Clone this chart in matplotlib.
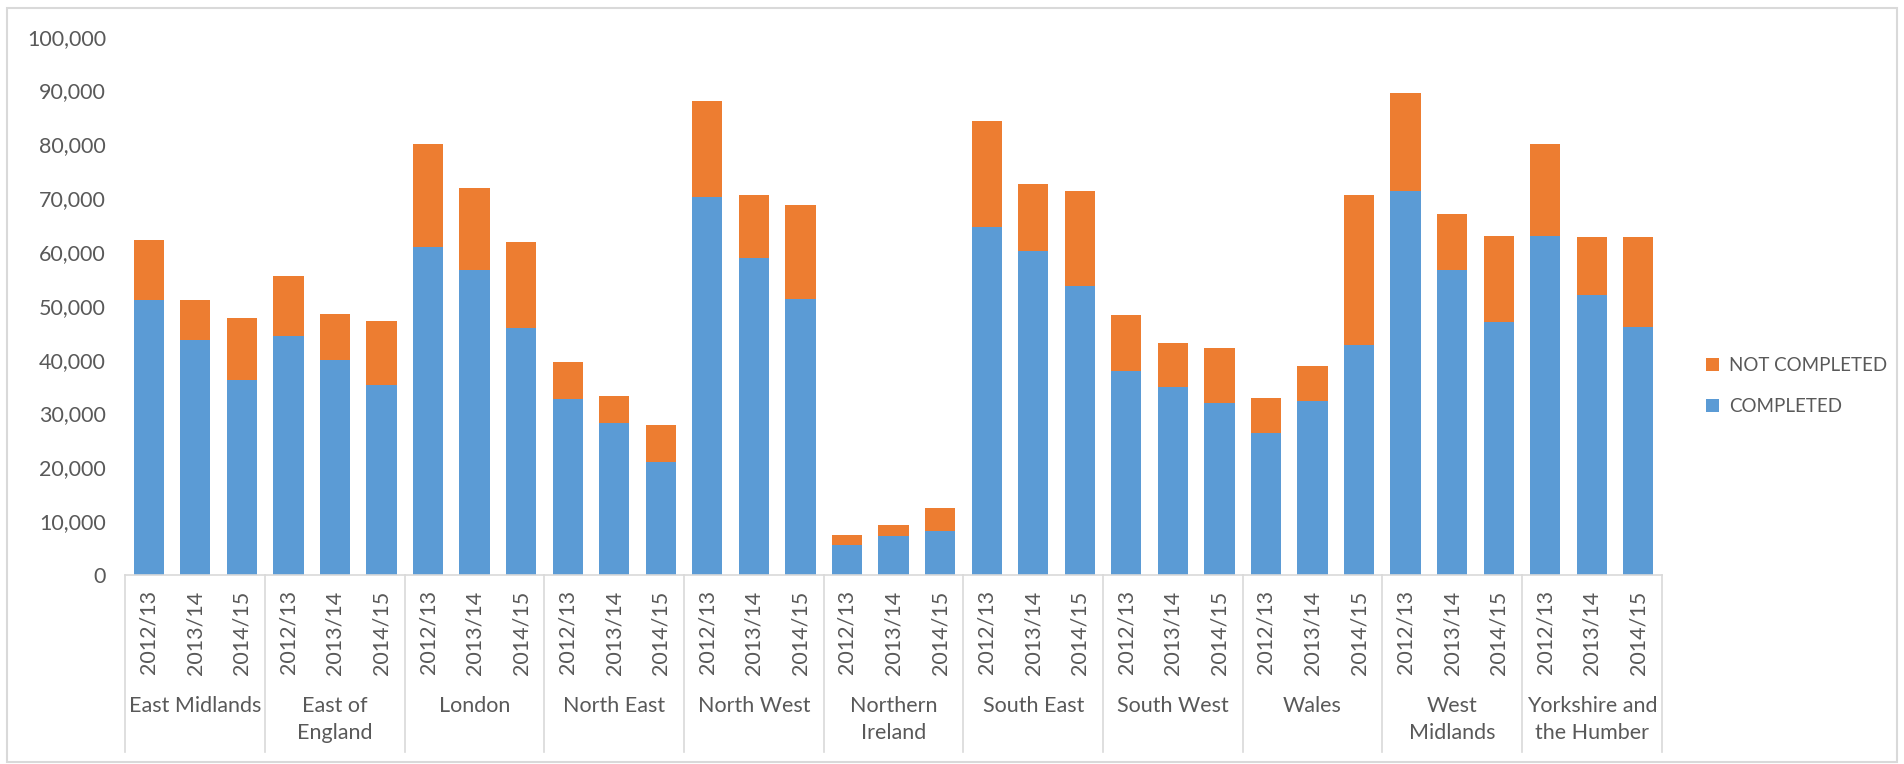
import matplotlib.pyplot as plt
from matplotlib.patches import Rectangle
from matplotlib.ticker import FuncFormatter

plt.rcParams['font.family'] = ['Lato', 'DejaVu Sans']

# Regions and financial years
regions = ['East Midlands', 'East of\nEngland', 'London', 'North East', 'North West',
           'Northern\nIreland', 'South East', 'South West', 'Wales', 'West\nMidlands',
           'Yorkshire and\nthe Humber']
years = ['2012/13', '2013/14', '2014/15']

# Completed counts per region, one value per year
completed = [
    51000, 43600, 36200,
    44400, 40000, 35300,
    61000, 56700, 45800,
    32600, 28200, 21000,
    70300, 58900, 51200,
    5500, 7200, 8200,
    64600, 60100, 53700,
    37900, 35000, 31900,
    26300, 32400, 42700,
    71300, 56700, 47000,
    62900, 52000, 46000,
]

# Not completed counts, stacked on top
not_completed = [
    11300, 7400, 11500,
    11200, 8400, 11800,
    19000, 15200, 16000,
    6900, 5000, 6900,
    17800, 11600, 17600,
    1900, 2100, 4200,
    19700, 12500, 17700,
    10400, 8100, 10300,
    6500, 6500, 27800,
    18300, 10300, 15900,
    17100, 10700, 16700,
]

blue = '#5B9BD5'
orange = '#ED7D31'
text_col = '#595959'
line_col = '#D9D9D9'

fig = plt.figure(figsize=(19.04, 7.64), dpi=100)
ax = fig.add_axes([0.0659, 0.2474, 0.8068, 0.7046])

x = list(range(len(completed)))
bar_c = ax.bar(x, completed, width=0.65, color=blue, label='COMPLETED')
bar_n = ax.bar(x, not_completed, width=0.65, bottom=completed, color=orange, label='NOT COMPLETED')

ax.set_xlim(-0.5, len(completed) - 0.5)
ax.set_ylim(0, 100000)
ax.set_yticks(range(0, 100001, 10000))
ax.yaxis.set_major_formatter(FuncFormatter(lambda v, p: f'{int(v):,}'))

# Year labels under each bar
ax.set_xticks(x)
ax.set_xticklabels(years * len(regions), rotation=90, va='top')
ax.tick_params(axis='x', length=0, pad=11, labelsize=15.5, labelcolor=text_col)
ax.tick_params(axis='y', length=0, pad=14, labelsize=15.5, labelcolor=text_col)

for side in ['top', 'right', 'left']:
    ax.spines[side].set_visible(False)
ax.spines['bottom'].set_color(line_col)
ax.spines['bottom'].set_linewidth(1.2)

# Region labels and group separators below the axis
for i, name in enumerate(regions):
    ax.text(i * 3 + 1, -0.225, name, transform=ax.get_xaxis_transform(),
            ha='center', va='top', fontsize=15.5, color=text_col, linespacing=1.45)
for k in range(len(regions) + 1):
    ax.axvline(k * 3 - 0.5, ymin=-0.329, ymax=0, color=line_col, lw=1.2, clip_on=False)

leg = ax.legend(handles=[bar_n, bar_c], loc='center left', bbox_to_anchor=(1.018, 0.351),
                frameon=False, fontsize=13.5, handlelength=0.7, handleheight=0.7,
                handletextpad=0.5, labelspacing=1.25, labelcolor=text_col)

# Light border round the chart area
fig.patches.append(Rectangle((6.5 / 1904, 2 / 764), 1890 / 1904, 754 / 764,
                             transform=fig.transFigure, fill=False,
                             edgecolor=line_col, lw=1.5))

fig.savefig('out.png', dpi=100)
